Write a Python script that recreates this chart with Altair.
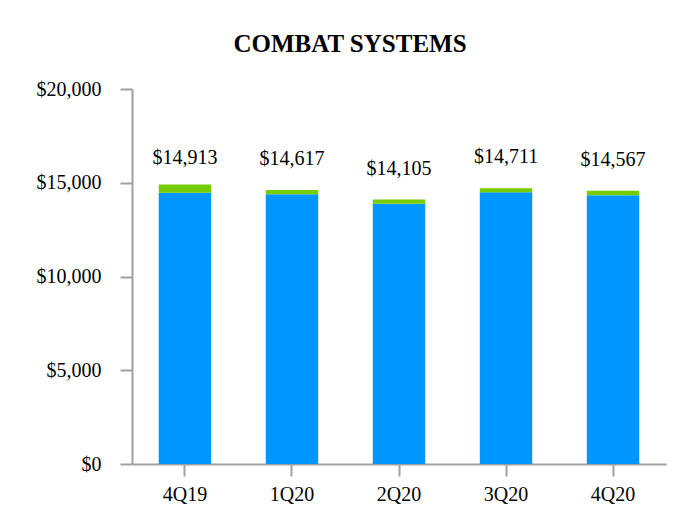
import altair as alt
import pandas as pd

quarters = ["4Q19", "1Q20", "2Q20", "3Q20", "4Q20"]
totals = [14913, 14617, 14105, 14711, 14567]
blue_vals = [14473, 14387, 13875, 14491, 14337]
green_vals = [440, 230, 230, 220, 230]
total_labels = ["$14,913", "$14,617", "$14,105", "$14,711", "$14,567"]

rows = []
for q, b, g in zip(quarters, blue_vals, green_vals):
    rows.append({"quarter": q, "segment": "A", "value": b, "ord": 0})
    rows.append({"quarter": q, "segment": "B", "value": g, "ord": 1})
df = pd.DataFrame(rows)

lab = pd.DataFrame({"quarter": quarters, "total": totals, "blue": blue_vals, "label": total_labels})

FONT = "Liberation Serif"
AX = "#a0a0a0"

xenc = alt.X("quarter:N", sort=quarters, title=None,
             scale=alt.Scale(paddingInner=0.51, paddingOuter=0.25),
             axis=alt.Axis(labelAngle=0, tickSize=12, labelPadding=8, labelFont=FONT,
                           labelFontSize=20, labelColor="black", domainColor=AX,
                           tickColor=AX, domainWidth=2, tickWidth=2))

bars = alt.Chart(df).mark_bar().encode(
    x=xenc,
    y=alt.Y("value:Q", stack="zero", title=None,
            scale=alt.Scale(domain=[0, 20000], nice=False),
            axis=alt.Axis(values=[0, 5000, 10000, 15000, 20000], format="$,.0f",
                          grid=False, tickSize=12, labelPadding=19, labelFont=FONT,
                          labelFontSize=20, labelColor="black", domainColor=AX,
                          tickColor=AX, domainWidth=2, tickWidth=2)),
    color=alt.Color("segment:N", legend=None,
                    scale=alt.Scale(domain=["A", "B"], range=["#0096FF", "#77CC00"])),
    order=alt.Order("ord:Q"),
)

texts = alt.Chart(lab).mark_text(font=FONT, fontSize=20, color="black",
                                 baseline="alphabetic", dy=-29).encode(
    x=alt.X("quarter:N", sort=quarters),
    y=alt.Y("blue:Q"),
    text="label:N",
)

chart = alt.layer(bars, texts).properties(
    width=534, height=375,
    autosize=alt.AutoSizeParams(type="none"),
    padding={"left": 124, "top": 81, "right": 24, "bottom": 60},
    title=alt.TitleParams("COMBAT SYSTEMS", font=FONT, fontSize=25, fontWeight="bold",
                          color="black", anchor="middle", dx=-49, offset=2,
                          baseline="alphabetic", frame="group"),
).configure_view(stroke=None)

chart.save("out.html", embed_options={"renderer": "svg", "actions": False})
